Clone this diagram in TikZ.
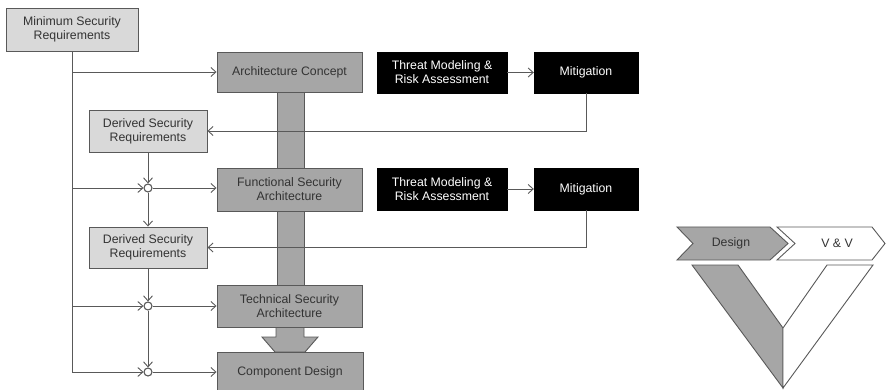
\documentclass[tikz,border=0pt]{standalone}
\usepackage{fontspec}
\setmainfont{Liberation Sans}
\usetikzlibrary{arrows.meta,shadows}
\definecolor{lightbox}{HTML}{D9D9D9}
\definecolor{darkbox}{HTML}{A6A6A6}
\definecolor{edge}{HTML}{595959}
\definecolor{txt}{HTML}{333333}
\begin{document}
\begin{tikzpicture}[x=1pt,y=-1pt,
  every node/.style={font=\fontsize{12.3}{14}\selectfont, align=center, inner sep=0pt},
  box/.style={draw=edge, line width=0.9pt, text=txt, drop shadow={opacity=0.25, shadow xshift=1.2pt, shadow yshift=-1.2pt}},
  lbox/.style={box, fill=lightbox},
  dbox/.style={box, fill=darkbox},
  bbox/.style={draw=black, fill=black, text=white, drop shadow={opacity=0.25, shadow xshift=1.2pt, shadow yshift=-1.2pt}},
  conn/.style={draw=edge, line width=0.9pt},
  arr/.style={conn, -{Straight Barb[length=5pt,width=9pt]}},
  junc/.style={circle, draw=edge, line width=1.1pt, fill=white, minimum size=8pt},
  chev/.style={draw=edge, line width=0.9pt}
]
\useasboundingbox (0,0) rectangle (886,390);

% gray trunk between boxes
\fill[darkbox] (277,92) rectangle (304,285);
\draw[conn] (277,92) -- (277,285) (304,92) -- (304,285);
\draw[conn, fill=darkbox] (276,327) -- (276,337) -- (262,337) -- (275,352) -- (305,352) -- (318,337) -- (304,337) -- (304,327);

% nodes
\node[lbox, minimum width=132pt, minimum height=43pt] (msr) at (72,29.5) {Minimum Security\\Requirements};
\node[dbox, minimum width=145pt, minimum height=40pt] (ac) at (289.5,72) {Architecture Concept};
\node[lbox, minimum width=118pt, minimum height=42pt] (d1) at (148,131) {Derived Security\\Requirements};
\node[dbox, minimum width=145pt, minimum height=43pt] (fsa) at (289.5,189.5) {Functional Security\\Architecture};
\node[lbox, minimum width=118pt, minimum height=41pt] (d2) at (148,247.5) {Derived Security\\Requirements};
\node[dbox, minimum width=145pt, minimum height=42pt] (tsa) at (289.5,306) {Technical Security\\Architecture};
\node[dbox, minimum width=146pt, minimum height=40pt] (cd) at (290,372) {Component Design};

\node[bbox, minimum width=130pt, minimum height=41pt] (t1) at (442,72.5) {Threat Modeling \&\\Risk Assessment};
\node[bbox, minimum width=104pt, minimum height=41pt] (m1) at (586,72.5) {Mitigation};
\node[bbox, minimum width=130pt, minimum height=42pt] (t2) at (442,189) {Threat Modeling \&\\Risk Assessment};
\node[bbox, minimum width=104pt, minimum height=42pt] (m2) at (586,189) {Mitigation};

\node[junc] (j1) at (148,188) {};
\node[junc] (j2) at (148,306) {};
\node[junc] (j3) at (148,372) {};

\coordinate (tb) at (72,372);
\coordinate (b0) at (72,72);
\coordinate (b1) at (72,188);
\coordinate (b2) at (72,306);

% trunk
\draw[conn] (msr.south) -- (tb);
\draw[arr] (tb) -- (j3);
\draw[arr] (b0) -- (ac.west |- b0);
\draw[arr] (b1) -- (j1);
\draw[arr] (b2) -- (j2);

% junction column
\draw[arr] (d1.south) -- (j1);
\draw[arr] (j1) -- (d2.north);
\draw[arr] (d2.south) -- (j2);
\draw[arr] (j2) -- (j3);

% junction to boxes
\draw[arr] (j1) -- (j1 -| fsa.west);
\draw[arr] (j2) -- (j2 -| tsa.west);
\draw[arr] (j3) -- (j3 -| cd.west);

% threat -> mitigation
\draw[arr] (t1) -- (m1);
\draw[arr] (t2.east) -- (t2.east -| m2.west);

% mitigation feedback
\draw[arr] (m1.south) |- (d1.east);
\draw[arr] (m2.south) |- (d2.east);

% V-model graphic
\draw[chev, fill=darkbox] (677,227) -- (770,227) -- (788,243.5) -- (770,260) -- (677,260) -- (693,243.5) -- cycle;
\draw[chev, fill=white] (777,227) -- (872,227) -- (885,243.5) -- (872,260) -- (777,260) -- (795,243.5) -- cycle;
\node[text=txt] (design) at (731,243.5) {Design};
\node[text=txt] (vv) at (837,243.5) {V \& V};
\draw[chev, fill=darkbox] (692,265) -- (738,265) -- (783,328) -- (783,388) -- cycle;
\draw[chev, fill=white] (783,328) -- (827,265) -- (873,265) -- (783,388) -- cycle;
\end{tikzpicture}
\end{document}
